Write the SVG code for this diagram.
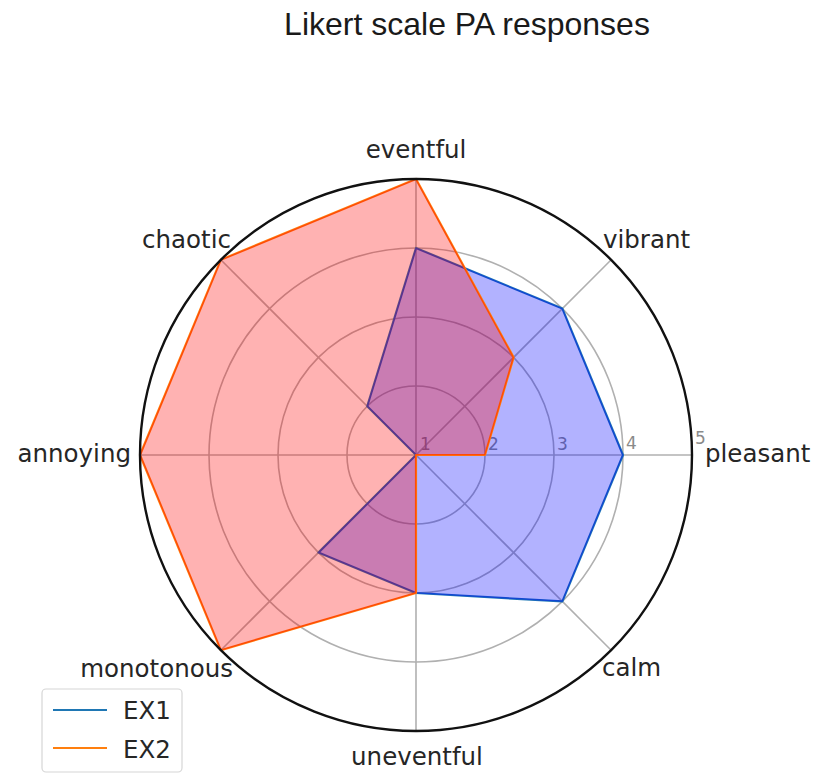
<svg xmlns="http://www.w3.org/2000/svg" width="818" height="775" viewBox="0 0 818 775">
<style>
.grid{fill:none;stroke:#b0b0b0;stroke-width:1.6}
.lbl{font-family:"DejaVu Sans",sans-serif;font-size:24.5px;fill:#262626}
.tick{font-family:"DejaVu Sans",sans-serif;font-size:17px;fill:#8a8a8a}
.title{font-family:"Liberation Sans",Arial,sans-serif;font-size:32px;fill:#1a1a1a}
</style>
<rect width="818" height="775" fill="#ffffff"/>
<text class="title" x="467" y="35" text-anchor="middle">Likert scale PA responses</text>
<g id="grid">
<circle class="grid" cx="416" cy="455" r="69"/>
<circle class="grid" cx="416" cy="455" r="138"/>
<circle class="grid" cx="416" cy="455" r="207"/>
<line class="grid" x1="416" y1="455" x2="692" y2="455"/>
<line class="grid" x1="416" y1="455" x2="611.2" y2="259.8"/>
<line class="grid" x1="416" y1="455" x2="416" y2="179"/>
<line class="grid" x1="416" y1="455" x2="220.8" y2="259.8"/>
<line class="grid" x1="416" y1="455" x2="140" y2="455"/>
<line class="grid" x1="416" y1="455" x2="220.8" y2="650.2"/>
<line class="grid" x1="416" y1="455" x2="416" y2="731"/>
<line class="grid" x1="416" y1="455" x2="611.2" y2="650.2"/>
</g>
<g id="ticks">
<text class="tick" x="420" y="450">1</text>
<text class="tick" x="488" y="450">2</text>
<text class="tick" x="557" y="450">3</text>
<text class="tick" x="626" y="449">4</text>
<text class="tick" x="695" y="444">5</text>
</g>
<g id="ex1">
<polygon points="623,455 562.4,308.6 416,248 367.2,406.2 416,455 318.4,552.6 416,593 562.4,601.4" fill="none" stroke="#1f77b4" stroke-width="2.2" stroke-linejoin="round"/>
<polygon points="623,455 562.4,308.6 416,248 367.2,406.2 416,455 318.4,552.6 416,593 562.4,601.4" fill="#0000ff" fill-opacity="0.3" stroke="#0000ff" stroke-opacity="0.3" stroke-width="1"/>
</g>
<g id="ex2">
<polygon points="485,455 513.6,357.4 416,179 220.8,259.8 140,455 220.8,650.2 416,593 416,455" fill="none" stroke="#ff7f0e" stroke-width="2.2" stroke-linejoin="round"/>
<polygon points="485,455 513.6,357.4 416,179 220.8,259.8 140,455 220.8,650.2 416,593 416,455" fill="#ff0000" fill-opacity="0.3" stroke="#ff0000" stroke-opacity="0.3" stroke-width="1"/>
</g>
<circle cx="416" cy="455" r="276" fill="none" stroke="#111111" stroke-width="2.4"/>
<g id="labels">
<text class="lbl" x="416" y="158" text-anchor="middle">eventful</text>
<text class="lbl" x="603" y="248">vibrant</text>
<text class="lbl" x="705" y="462">pleasant</text>
<text class="lbl" x="602" y="676">calm</text>
<text class="lbl" x="417" y="765" text-anchor="middle">uneventful</text>
<text class="lbl" x="233" y="677" text-anchor="end">monotonous</text>
<text class="lbl" x="131" y="462" text-anchor="end">annoying</text>
<text class="lbl" x="231" y="248" text-anchor="end">chaotic</text>
</g>
<g id="legend">
<rect x="42" y="689" width="140" height="83" rx="4" fill="#ffffff" fill-opacity="0.8" stroke="#d6d6d6" stroke-width="1.2"/>
<line x1="53" y1="710" x2="107" y2="710" stroke="#1f77b4" stroke-width="2.2"/>
<line x1="53" y1="748" x2="107" y2="748" stroke="#ff7f0e" stroke-width="2.2"/>
<text class="lbl" x="123" y="719">EX1</text>
<text class="lbl" x="123" y="758">EX2</text>
</g>
</svg>
